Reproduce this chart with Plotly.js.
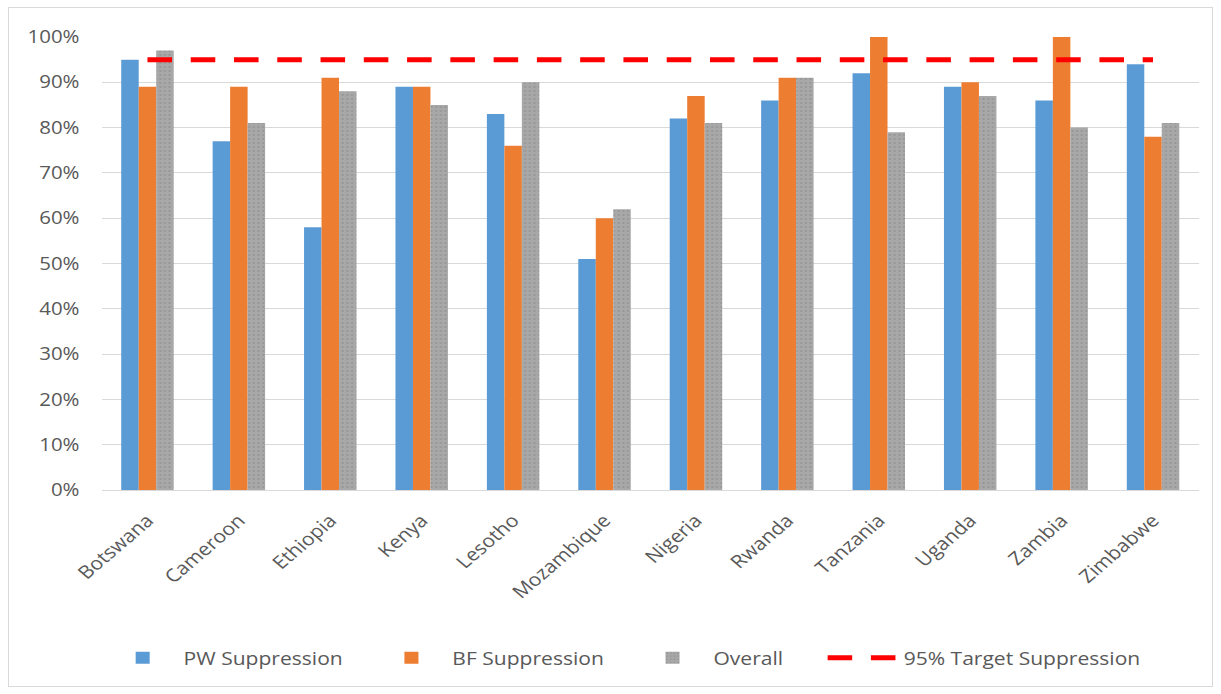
<!DOCTYPE html>
<html>
<head>
<meta charset="utf-8">
<script src="https://cdn.plot.ly/plotly-3.0.1.min.js"></script>
<style>
  html, body { margin: 0; padding: 0; background: #ffffff; overflow: hidden; }
  #frame { position: absolute; left: 8px; top: 7px; width: 1205px; height: 680px; border: 1px solid #d9d9d9; box-sizing: border-box; }
  #chart { position: absolute; left: 0; top: 0; width: 1044px; height: 694px; transform-origin: 0 0; transform: scaleX(1.1695); }
</style>
</head>
<body>
<div id="frame"></div>
<div id="chart"></div>
<script>
const countries = ["Botswana", "Cameroon", "Ethiopia", "Kenya", "Lesotho", "Mozambique", "Nigeria", "Rwanda", "Tanzania", "Uganda", "Zambia", "Zimbabwe"];
const pwSuppression = [0.95, 0.77, 0.58, 0.89, 0.83, 0.51, 0.82, 0.86, 0.92, 0.89, 0.86, 0.94];
const bfSuppression = [0.89, 0.89, 0.91, 0.89, 0.76, 0.60, 0.87, 0.91, 1.00, 0.90, 1.00, 0.78];
const overall = [0.97, 0.81, 0.88, 0.85, 0.90, 0.62, 0.81, 0.91, 0.79, 0.87, 0.80, 0.81];
const target = [0.95, 0.95, 0.95, 0.95, 0.95, 0.95, 0.95, 0.95, 0.95, 0.95, 0.95, 0.95];
const yTickVals = [0, 0.1, 0.2, 0.3, 0.4, 0.5, 0.6, 0.7, 0.8, 0.9, 1.0];
const yTickText = ["0%", "10%", "20%", "30%", "40%", "50%", "60%", "70%", "80%", "90%", "100%"];
const seriesNames = ["PW Suppression", "BF Suppression", "Overall", "95% Target Suppression"];

// trailing non-breaking spaces widen the gap between legend entries
const pad = "\u00a0\u00a0\u00a0\u00a0";
const padWide = "\u00a0\u00a0\u00a0\u00a0\u00a0\u00a0";

const traces = [
  { type: "bar", name: seriesNames[0] + pad, x: countries, y: pwSuppression,
    marker: { color: "#5b9bd5" } },
  { type: "bar", name: seriesNames[1] + pad, x: countries, y: bfSuppression,
    marker: { color: "#ed7d31" } },
  { type: "bar", name: seriesNames[2] + padWide, x: countries, y: overall,
    marker: { color: "#a5a5a5", pattern: { shape: ".", bgcolor: "#a8a8a8", fgcolor: "#959595", size: 4, solidity: 0.2 } } },
  { type: "scatter", mode: "lines", name: seriesNames[3], x: countries, y: target,
    line: { color: "#ff0000", width: 5, dash: "21px,16px" } }
];

const layout = {
  width: 1044, height: 694,
  margin: { l: 87, r: 19, t: 37, b: 204 },
  paper_bgcolor: "rgba(0,0,0,0)",
  plot_bgcolor: "rgba(0,0,0,0)",
  font: { family: "Open Sans, Liberation Sans, sans-serif", color: "#595959", size: 18 },
  barmode: "group",
  bargap: 0.426,
  bargroupgap: 0,
  showlegend: true,
  legend: { orientation: "h", x: 0.0, xanchor: "left", y: -0.371, yanchor: "middle",
            font: { size: 18, color: "#595959" }, itemwidth: 60, traceorder: "normal" },
  xaxis: {
    type: "category", tickangle: -45, showgrid: false,
    showline: true, linecolor: "#d9d9d9", linewidth: 1,
    ticks: "", ticklabelstandoff: 12,
    tickfont: { size: 18, color: "#595959" }, fixedrange: true
  },
  yaxis: {
    range: [0, 1.0], tickvals: yTickVals, ticktext: yTickText,
    showgrid: true, gridcolor: "#d9d9d9", gridwidth: 1,
    zeroline: false, showline: false, ticks: "", ticklabelstandoff: 18,
    tickfont: { size: 17.5, color: "#595959" }, fixedrange: true
  }
};

Plotly.newPlot("chart", traces, layout, { displayModeBar: false, staticPlot: true });
</script>
</body>
</html>
